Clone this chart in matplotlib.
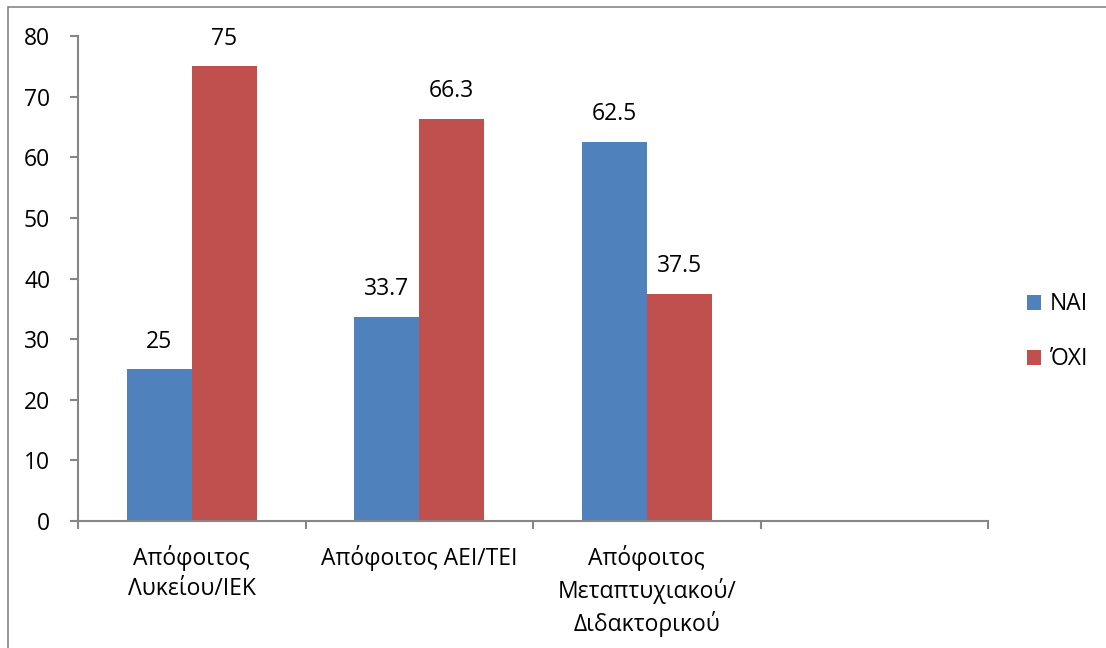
import matplotlib.pyplot as plt
import numpy as np
from matplotlib.patches import Rectangle

plt.rcParams['font.family'] = ['Open Sans', 'DejaVu Sans']

categories = ["Απόφοιτος\nΛυκείου/ΙΕΚ", "Απόφοιτος ΑΕΙ/ΤΕΙ",
              "Απόφοιτος\nΜεταπτυχιακού/\nΔιδακτορικού", ""]
nai = [25, 33.7, 62.5]
oxi = [75, 66.3, 37.5]
series_names = ["ΝΑΙ", "ΌΧΙ"]

blue = '#4F81BD'
red = '#C0504D'
axis_gray = '#868686'
fs = 16.5

fig = plt.figure(figsize=(11.06, 6.48), dpi=100)
ax = fig.add_axes([78 / 1106, 1 - 521 / 648, 910 / 1106, 485 / 648])

# outer frame of the chart area
fig.patches.append(Rectangle((8 / 1106, -0.1), 1.2, 1 - 7 / 648 + 0.1,
                             transform=fig.transFigure, fill=False,
                             edgecolor=axis_gray, linewidth=1.2))

x = np.arange(len(nai))
w = 0.286
b1 = ax.bar(x - w / 2, nai, w, color=blue, label=series_names[0])
b2 = ax.bar(x + w / 2, oxi, w, color=red, label=series_names[1])

for bars, vals in ((b1, nai), (b2, oxi)):
    for rect, v in zip(bars, vals):
        ax.text(rect.get_x() + rect.get_width() / 2, v + 2.6, f"{v:g}",
                ha='center', va='bottom', fontsize=fs)

ax.set_xlim(-0.5, len(categories) - 0.5)
ax.set_ylim(0, 80)
ax.set_yticks(range(0, 81, 10))
ax.set_xticks(np.arange(len(categories)))
ax.set_xticklabels(categories, fontsize=fs, linespacing=1.35)
ax.set_xticks(np.arange(-0.5, len(categories)), minor=True)
ax.tick_params(axis='x', which='major', length=0, pad=17)
ax.tick_params(axis='x', which='minor', length=6, color=axis_gray, width=1.5)
ax.tick_params(axis='y', length=6, color=axis_gray, width=1.5, labelsize=fs, pad=14)

for s in ('top', 'right'):
    ax.spines[s].set_visible(False)
for s in ('left', 'bottom'):
    ax.spines[s].set_color(axis_gray)
    ax.spines[s].set_linewidth(1.5)

ax.legend(loc='center left', bbox_to_anchor=(1.02, 0.39), frameon=False,
          fontsize=fs, handlelength=0.6, handleheight=0.6, labelspacing=1.35,
          handletextpad=0.4)

fig.savefig('out.png', dpi=100)
